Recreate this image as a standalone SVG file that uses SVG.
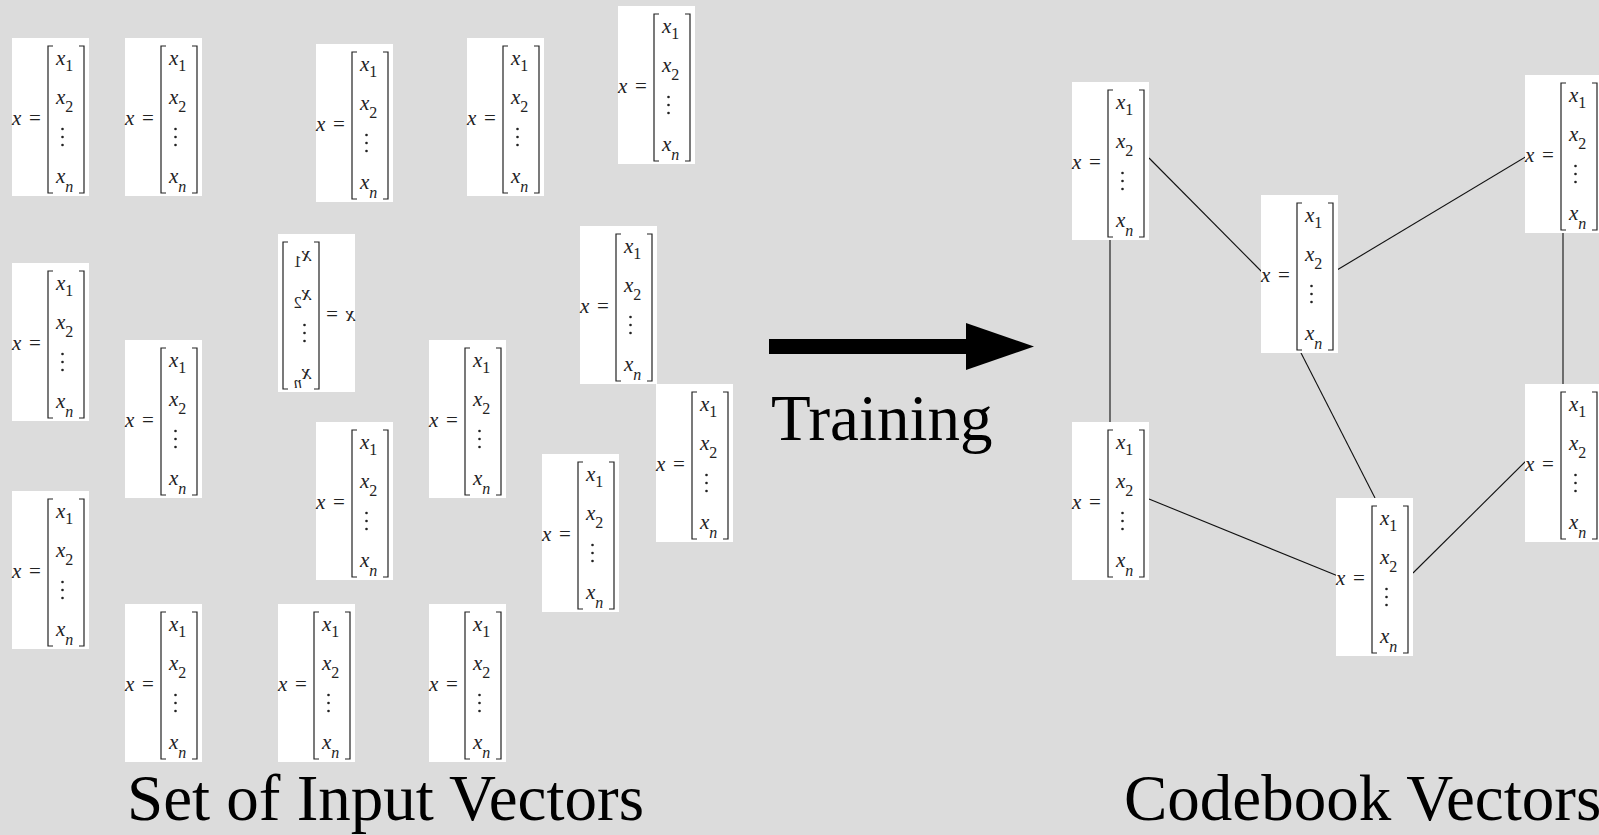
<svg xmlns="http://www.w3.org/2000/svg" xmlns:xlink="http://www.w3.org/1999/xlink" width="1599" height="835" viewBox="0 0 1599 835">
<style>
.bg{fill:#dcdcdc}
.box{fill:#ffffff}
.m{font-family:"Liberation Serif","Times New Roman",serif;font-style:italic;font-size:21px;fill:#222}
.s{font-size:16px}
.u{font-style:normal}
.br{fill:none;stroke:#222;stroke-width:1.2}
.dot{fill:#222}
.ln{stroke:#111;stroke-width:1.1;fill:none}
.lbl{font-family:"Liberation Serif","Times New Roman",serif;font-size:65px;fill:#000}
</style>
<defs>
<g id="vec">
<rect class="box" x="0" y="0" width="77" height="158"/>
<text class="m" x="0" y="87">x</text>
<text class="m u" x="17" y="87">=</text>
<path class="br" d="M41,8H36V155H41M67,8H72V155H67"/>
<text class="m" x="44" y="27">x<tspan class="s u" dy="6">1</tspan></text>
<text class="m" x="44" y="66">x<tspan class="s u" dy="8">2</tspan></text>
<circle class="dot" cx="50.5" cy="91" r="1.3"/>
<circle class="dot" cx="50.5" cy="99" r="1.3"/>
<circle class="dot" cx="50.5" cy="107" r="1.3"/>
<text class="m" x="44" y="145">x<tspan class="s" dy="9">n</tspan></text>
</g>
</defs>
<rect class="bg" x="0" y="0" width="1599" height="835"/>

<g id="in1"><use xlink:href="#vec" x="12" y="38"/></g>
<g id="in2"><use xlink:href="#vec" x="125" y="38"/></g>
<g id="in3"><use xlink:href="#vec" x="316" y="44"/></g>
<g id="in4"><use xlink:href="#vec" x="467" y="38"/></g>
<g id="in5"><use xlink:href="#vec" x="618" y="6"/></g>
<g id="in6"><use xlink:href="#vec" x="12" y="263"/></g>
<g id="in7"><use xlink:href="#vec" transform="translate(355,234) scale(-1,1)"/></g>
<g id="in8"><use xlink:href="#vec" x="580" y="226"/></g>
<g id="in9"><use xlink:href="#vec" x="125" y="340"/></g>
<g id="in10"><use xlink:href="#vec" x="429" y="340"/></g>
<g id="in11"><use xlink:href="#vec" x="656" y="384"/></g>
<g id="in12"><use xlink:href="#vec" x="12" y="491"/></g>
<g id="in13"><use xlink:href="#vec" x="316" y="422"/></g>
<g id="in14"><use xlink:href="#vec" x="542" y="454"/></g>
<g id="in15"><use xlink:href="#vec" x="125" y="604"/></g>
<g id="in16"><use xlink:href="#vec" x="278" y="604"/></g>
<g id="in17"><use xlink:href="#vec" x="429" y="604"/></g>

<g id="training-arrow">
<rect x="769" y="339" width="199" height="15" fill="#000"/>
<polygon points="966,323 1034,346.5 966,370" fill="#000"/>
<text class="lbl" x="771" y="440" font-size="63">Training</text>
</g>

<g id="connectors">
<line class="ln" x1="1149" y1="158" x2="1263" y2="273"/>
<line class="ln" x1="1110" y1="237" x2="1110" y2="422" stroke="#555" stroke-width="1.5"/>
<line class="ln" x1="1337" y1="270" x2="1527" y2="156"/>
<line class="ln" x1="1299" y1="349" x2="1375" y2="498"/>
<line class="ln" x1="1563" y1="233" x2="1563" y2="384" stroke="#555" stroke-width="1.5"/>
<line class="ln" x1="1149" y1="499" x2="1338" y2="576"/>
<line class="ln" x1="1413" y1="573" x2="1526" y2="461"/>
</g>

<g id="cb1"><use xlink:href="#vec" x="1072" y="82"/></g>
<g id="cb2"><use xlink:href="#vec" x="1261" y="195"/></g>
<g id="cb3"><use xlink:href="#vec" x="1525" y="75"/></g>
<g id="cb4"><use xlink:href="#vec" x="1072" y="422"/></g>
<g id="cb5"><use xlink:href="#vec" x="1336" y="498"/></g>
<g id="cb6"><use xlink:href="#vec" x="1525" y="384"/></g>

<text id="label-input" class="lbl" x="127" y="820">Set of Input Vectors</text>
<text id="label-codebook" class="lbl" x="1124" y="820">Codebook Vectors</text>
</svg>
